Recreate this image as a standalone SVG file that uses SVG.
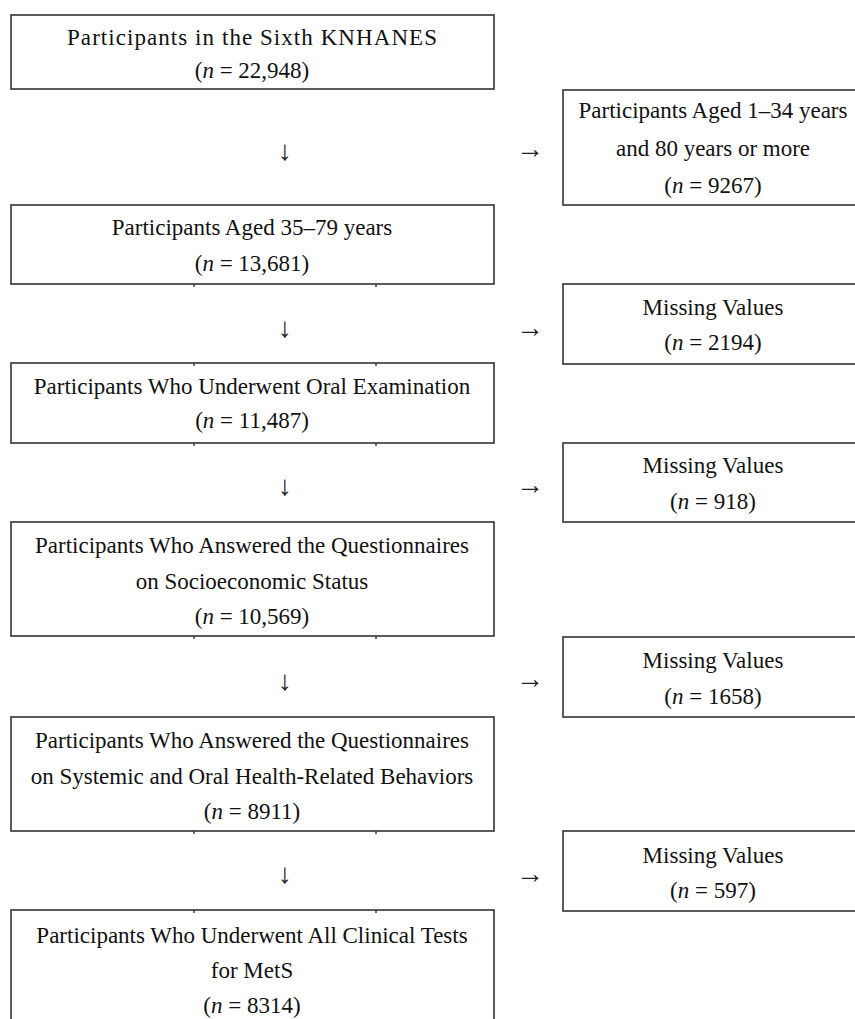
<svg xmlns="http://www.w3.org/2000/svg" width="855" height="1019" viewBox="0 0 855 1019">
<style>
.box{fill:#fff;stroke:#333;stroke-width:1.6}
.tick{stroke:#333;stroke-width:1.4}
text{font-family:"Liberation Serif","Times New Roman",serif;font-size:23px;fill:#111;text-anchor:middle}
.i{font-style:italic}
.arr{font-size:28px;fill:#222}
</style>
<rect width="855" height="1019" fill="#fff"/>
<g id="n1">
<rect class="box" x="11" y="15" width="483" height="74"/>
<text x="252" y="45" textLength="370">Participants in the Sixth KNHANES</text>
<text x="252" y="78">(<tspan class="i">n</tspan> = 22,948)</text>
</g>
<g id="n2">
<rect class="box" x="11" y="205" width="483" height="79"/>
<text x="252" y="235">Participants Aged 35–79 years</text>
<text x="252" y="271">(<tspan class="i">n</tspan> = 13,681)</text>
</g>
<g id="n3">
<rect class="box" x="11" y="363" width="483" height="80"/>
<text x="252" y="394">Participants Who Underwent Oral Examination</text>
<text x="252" y="428">(<tspan class="i">n</tspan> = 11,487)</text>
</g>
<g id="n4">
<rect class="box" x="11" y="522" width="483" height="114"/>
<text x="252" y="553">Participants Who Answered the Questionnaires</text>
<text x="252" y="589">on Socioeconomic Status</text>
<text x="252" y="624">(<tspan class="i">n</tspan> = 10,569)</text>
</g>
<g id="n5">
<rect class="box" x="11" y="717" width="483" height="114"/>
<text x="252" y="748">Participants Who Answered the Questionnaires</text>
<text x="252" y="784">on Systemic and Oral Health-Related Behaviors</text>
<text x="252" y="819">(<tspan class="i">n</tspan> = 8911)</text>
</g>
<g id="n6">
<rect class="box" x="11" y="910" width="483" height="130"/>
<text x="252" y="943">Participants Who Underwent All Clinical Tests</text>
<text x="252" y="978">for MetS</text>
<text x="252" y="1013">(<tspan class="i">n</tspan> = 8314)</text>
</g>
<g id="e1">
<rect class="box" x="563" y="90" width="300" height="115"/>
<text x="713" y="118">Participants Aged 1–34 years</text>
<text x="713" y="156">and 80 years or more</text>
<text x="713" y="193">(<tspan class="i">n</tspan> = 9267)</text>
</g>
<g id="e2">
<rect class="box" x="563" y="284" width="300" height="80"/>
<text x="713" y="315">Missing Values</text>
<text x="713" y="350">(<tspan class="i">n</tspan> = 2194)</text>
</g>
<g id="e3">
<rect class="box" x="563" y="443" width="300" height="79"/>
<text x="713" y="473">Missing Values</text>
<text x="713" y="509">(<tspan class="i">n</tspan> = 918)</text>
</g>
<g id="e4">
<rect class="box" x="563" y="637" width="300" height="80"/>
<text x="713" y="668">Missing Values</text>
<text x="713" y="704">(<tspan class="i">n</tspan> = 1658)</text>
</g>
<g id="e5">
<rect class="box" x="563" y="831" width="300" height="80"/>
<text x="713" y="863">Missing Values</text>
<text x="713" y="898">(<tspan class="i">n</tspan> = 597)</text>
</g>
<g id="ticks">
<path class="tick" d="M194 284v3M376 284v3M194 363v3M376 363v3M194 443v3M376 443v3M194 636v3M376 636v3M194 831v3M376 831v3M194 910v3M376 910v3"/>
</g>
<g id="connectors">
<text class="arr" x="285" y="160">↓</text>
<text class="arr" x="530" y="158">→</text>
<text class="arr" x="285" y="337">↓</text>
<text class="arr" x="530" y="337">→</text>
<text class="arr" x="285" y="495">↓</text>
<text class="arr" x="530" y="494">→</text>
<text class="arr" x="285" y="690">↓</text>
<text class="arr" x="530" y="688">→</text>
<text class="arr" x="285" y="883">↓</text>
<text class="arr" x="530" y="883">→</text>
</g>
</svg>
